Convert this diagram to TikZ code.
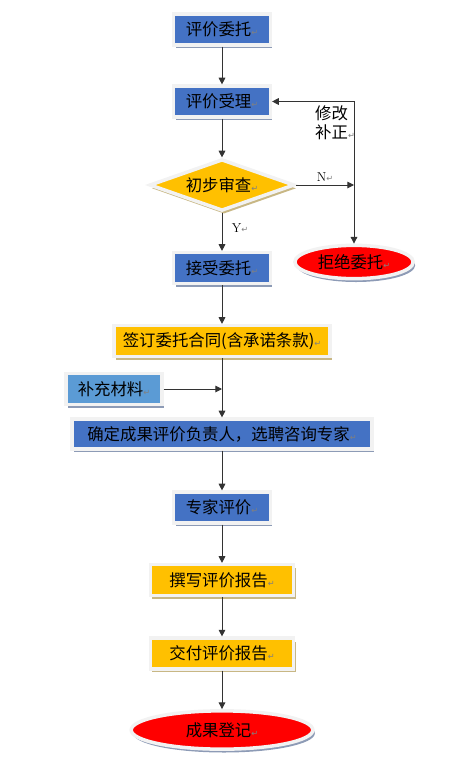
\documentclass[tikz,border=0pt]{standalone}
\usepackage{fontspec}
\usepackage{tikz}
\usetikzlibrary{positioning,arrows.meta,shapes.geometric,shadows}
\usepackage{xcolor}
\newfontfamily\cjk{Noto Sans CJK SC}
\newfontfamily\symfont{DejaVu Sans}
\definecolor{boxblue}{HTML}{4472C4}
\definecolor{lightblue}{HTML}{5B9BD5}
\definecolor{boxyellow}{HTML}{FFC000}
\definecolor{framegray}{HTML}{F2F2F2}
\definecolor{shadowblue}{HTML}{8D9BB6}
\definecolor{shadowtan}{HTML}{C8B784}
\newcommand{\pmark}{{\symfont\fontsize{7}{7}\selectfont\color{gray}↵}}

\begin{document}
\begin{tikzpicture}[x=0.03cm,y=-0.03cm,>={Triangle[length=2mm,width=2mm]},
  box/.style={draw=framegray,line width=3pt,inner sep=0pt,font=\cjk\fontsize{14}{16}\selectfont},
  bshadow/.style={drop shadow={shadow xshift=0.6mm,shadow yshift=-1mm,fill=shadowblue,opacity=1}},
  yshadow/.style={drop shadow={shadow xshift=0.6mm,shadow yshift=-1mm,fill=shadowtan,opacity=1}},
  bluebox/.style={box,bshadow,fill=boxblue,minimum width=2.9cm,minimum height=0.92cm},
  yellowbox/.style={box,yshadow,fill=boxyellow,minimum height=0.92cm},
  oval/.style={box,ellipse,bshadow,fill=red},
  link/.style={draw=black!80,line width=0.8pt},
  edgelab/.style={font=\fontsize{11}{12}\selectfont,inner sep=1pt}]
\useasboundingbox (0,0) rectangle (454,774);
% main column
\node[bluebox] (wt) at (222,29.5) {评价委托\pmark};
\node[bluebox] (sl) at (222,101.5) {评价受理\pmark};
\node[box,diamond,yshadow,fill=boxyellow,aspect=2.9,minimum width=4.35cm,minimum height=1.55cm] (cs) at (222,185) {初步审查\pmark};
\node[bluebox] (js) at (222,268) {接受委托\pmark};
\node[yellowbox,minimum width=6.47cm] (qd) at (222,341) {签订委托合同(含承诺条款)\pmark};
\node[box,bshadow,fill=lightblue,minimum width=2.87cm,minimum height=0.92cm] (bc) at (114,389) {补充材料\pmark};
\node[bluebox,minimum width=8.99cm,minimum height=0.89cm] (qr) at (222,434) {确定成果评价负责人，选聘咨询专家\pmark};
\node[bluebox] (zj) at (222,507.5) {专家评价\pmark};
\node[yellowbox,minimum width=4.3cm] (zx) at (222,580) {撰写评价报告\pmark};
\node[yellowbox,minimum width=4.3cm] (jf) at (222,653.5) {交付评价报告\pmark};
\node[oval,minimum width=5.45cm,minimum height=1.15cm] (dj) at (222,730) {成果登记\pmark};
% reject branch
\node[oval,minimum width=3.55cm,minimum height=1.0cm] (jj) at (354,262) {拒绝委托\pmark};
\node[font=\cjk\fontsize{14}{17}\selectfont,align=left,inner sep=0pt,anchor=north west] (xg) at (315,105) {修改\\补正\pmark};
\coordinate (turn) at (354,101.5);
\coordinate (njoin) at (354,185);
\coordinate (bcjoin) at (222,389);

\draw[link,->] (wt) -- (sl);
\draw[link,->] (sl) -- (cs);
\draw[link,->] (cs) -- (js) node[edgelab,pos=0.4,right=7pt] (ylab) {Y\pmark};
\draw[link,->] (cs.east) -- (njoin) node[edgelab,midway,above=2pt] (nlab) {N\pmark};
\draw[link,<->] (sl.east) -- (turn) -- (jj.north);
\draw[link,->] (js) -- (qd);
\draw[link,->] (qd) -- (qr);
\draw[link,->] (bc) -- (bcjoin);
\draw[link,->] (qr) -- (zj);
\draw[link,->] (zj) -- (zx);
\draw[link,->] (zx) -- (jf);
\draw[link,->] (jf) -- (dj);
\end{tikzpicture}
\end{document}
